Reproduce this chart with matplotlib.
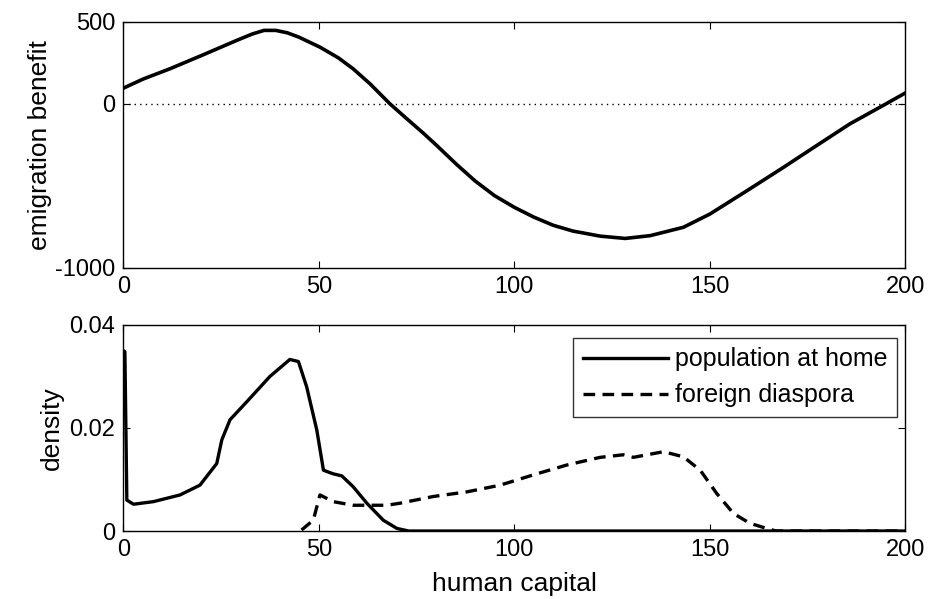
import numpy as np
import matplotlib
matplotlib.use('Agg')
import matplotlib.pyplot as plt

plt.rcParams['font.family'] = ['Liberation Sans', 'DejaVu Sans']
plt.rcParams['axes.unicode_minus'] = False

# emigration benefit vs human capital
hc_top = [0, 5, 11.9, 20.5, 29, 33, 36, 39, 42, 45, 50.3, 55, 58.8, 63.1,
          68.2, 72, 76.8, 80, 85.3, 90, 95, 100, 105, 110, 115, 122, 128.4,
          134.8, 143.3, 150.1, 160.3, 168.9, 177.4, 185.9, 194.4, 200]
benefit = [95, 150, 213, 299, 386, 425, 447, 447, 432, 405, 345, 280, 213,
           122, 0, -80, -180, -250, -370, -470, -560, -630, -690, -740, -775,
           -806, -820, -803, -752, -671, -518, -387, -254, -122, -10, 65]

# density of population at home
hc_home = [0, 0.4, 0.9, 2.6, 7.7, 14.5, 19.6, 23.9, 25.2, 27.3, 31.6, 37.5,
           42.6, 44.8, 46.9, 49.5, 51.2, 53.7, 55.9, 58.8, 62.3, 66.5, 70,
           73, 100, 200]
home = [0.035, 0.0348, 0.006, 0.0052, 0.0057, 0.007, 0.0089, 0.0131, 0.0177,
        0.0216, 0.0251, 0.030, 0.0333, 0.0329, 0.028, 0.0196, 0.0118, 0.0111,
        0.0107, 0.0086, 0.0054, 0.0021, 0.0005, 0.0, 0.0, 0.0]

# density of foreign diaspora
hc_dia = [45.6, 48.6, 50.3, 53.7, 58.8, 67.4, 70.8, 79.3, 87.9, 96.4, 104.9,
          113.4, 122, 127.9, 130.5, 138.2, 143.3, 147.6, 151.8, 156.1, 160.3,
          164.6, 167, 200]
diaspora = [0.0002, 0.0021, 0.007, 0.0057, 0.005, 0.005, 0.0054, 0.0067,
            0.0076, 0.0089, 0.0109, 0.0128, 0.0143, 0.0148, 0.0143, 0.0154,
            0.0144, 0.0118, 0.0073, 0.0034, 0.0015, 0.0005, 0.0, 0.0]

fig = plt.figure(figsize=(9.3, 5.99), dpi=100)
ax1 = fig.add_axes([0.1326, 0.5526, 0.8406, 0.4112])
ax2 = fig.add_axes([0.1326, 0.1135, 0.8406, 0.344])

fs = 17
lfs = 19

ax1.plot(hc_top, benefit, color='black', lw=2.6, solid_joinstyle='round')
ax1.axhline(0, color='black', lw=1, ls=(0, (1, 3)))
ax1.set_xlim(0, 200)
ax1.set_ylim(-1000, 500)
ax1.set_yticks([-1000, 0, 500])
ax1.set_xticks([0, 50, 100, 150, 200])
ax1.set_ylabel('emigration benefit', fontsize=lfs, labelpad=2)

ax2.plot(hc_home, home, color='black', lw=2.4, label='population at home',
         solid_joinstyle='round')
ax2.plot(hc_dia, diaspora, color='black', lw=2.4, ls=(0, (3.5, 2.2)),
         label='foreign diaspora')
ax2.set_xlim(0, 200)
ax2.set_ylim(0, 0.04)
ax2.set_yticks([0, 0.02, 0.04])
ax2.set_yticklabels(['0', '0.02', '0.04'])
ax2.set_xticks([0, 50, 100, 150, 200])
ax2.set_ylabel('density', fontsize=lfs, labelpad=4)
ax2.set_xlabel('human capital', fontsize=lfs, labelpad=8)
leg = ax2.legend(loc='upper right', fontsize=lfs - 1, frameon=True,
                 fancybox=False, edgecolor='black', borderpad=0.38,
                 handlelength=3.4, handletextpad=0.3, labelspacing=0.48,
                 borderaxespad=0, bbox_to_anchor=(0.9897, 0.937))
leg.get_frame().set_linewidth(1)

for ax in (ax1, ax2):
    ax.tick_params(direction='in', top=True, right=True, labelsize=fs,
                   length=5, pad=6)
    for s in ax.spines.values():
        s.set_linewidth(1)

fig.savefig('out.png', dpi=100)
